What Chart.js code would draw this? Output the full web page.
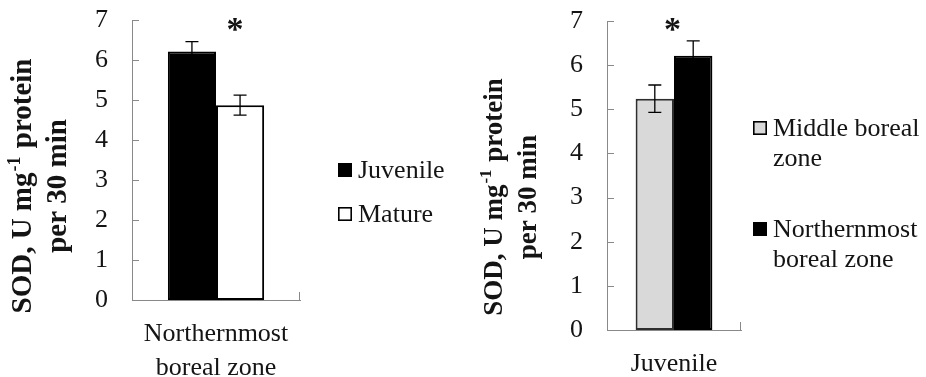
<!DOCTYPE html>
<html>
<head>
<meta charset="utf-8">
<script src="https://cdn.jsdelivr.net/npm/chart.js@4.4.0/dist/chart.umd.min.js"></script>
<style>
  html, body { margin: 0; padding: 0; background: #ffffff; }
  #wrap { position: relative; width: 926px; height: 377px; overflow: hidden; }
  .panel { position: absolute; top: 0; width: 463px; height: 377px; }
</style>
</head>
<body>
<div id="wrap">
  <div class="panel" style="left:0"><canvas id="ageChart" width="463" height="377"></canvas></div>
  <div class="panel" style="left:463px"><canvas id="zoneChart" width="463" height="377"></canvas></div>
</div>
<script>
// ---- Panel A: juvenile vs mature trees, northernmost boreal zone ----
const ageCategories = [["Northernmost", "boreal zone"]];
const ageLegend = [["Juvenile"], ["Mature"]];
const juvenileSOD = [6.21];
const juvenileErr = [0.25];
const matureSOD = [4.87];
const matureErr = [0.25];

// ---- Panel B: juvenile trees, middle vs northernmost boreal zone ----
const zoneCategories = ["Juvenile"];
const zoneLegend = [["Middle boreal", "zone"], ["Northernmost", "boreal zone"]];
const middleSOD = [5.24];
const middleErr = [0.31];
const northSOD = [6.21];
const northErr = [0.34];

// ---- Shared axis text ----
const yTickMin = 0;
const yTickMax = 7;
const yTickStep = 1;
const yTitleLine1 = [{ text: "SOD, U mg" }, { text: "-1", sup: true }, { text: " protein" }];
const yTitleLine2 = "per 30 min";
const significanceMark = "*";

const SERIF = "'Liberation Serif', 'Times New Roman', serif";
const AXIS_GREY = "#898989";
const TEXT = "#141414";

// Error bars, inside tick marks, rotated axis title, legend and significance star
const decorPlugin = {
  id: "decor",
  afterDatasetsDraw(chart) {
    const ctx = chart.ctx;
    const yScale = chart.scales.y;
    const xScale = chart.scales.x;
    const lay = chart.options.plugins.decor;
    ctx.save();

    // error bars
    chart.data.datasets.forEach((ds, di) => {
      const meta = chart.getDatasetMeta(di);
      meta.data.forEach((bar, i) => {
        const v = ds.data[i], e = ds.errors[i];
        const yTop = yScale.getPixelForValue(v + e);
        const yBot = yScale.getPixelForValue(v - e);
        ctx.strokeStyle = "#000";
        ctx.lineWidth = 1.3;
        ctx.beginPath();
        ctx.moveTo(bar.x, yTop); ctx.lineTo(bar.x, yBot);
        ctx.moveTo(bar.x - 6.5, yTop); ctx.lineTo(bar.x + 6.5, yTop);
        ctx.moveTo(bar.x - 6.5, yBot); ctx.lineTo(bar.x + 6.5, yBot);
        ctx.stroke();
      });
    });

    // tick marks pointing into the plot
    const area = chart.chartArea;
    ctx.strokeStyle = AXIS_GREY;
    ctx.lineWidth = 1;
    ctx.beginPath();
    yScale.ticks.forEach(t => {
      const y = Math.round(yScale.getPixelForValue(t.value)) + 0.5;
      ctx.moveTo(area.left, y); ctx.lineTo(area.left + 7, y);
    });
    const xr = Math.round(area.right) - 0.5;
    ctx.moveTo(xr, area.bottom); ctx.lineTo(xr, area.bottom - 8);
    ctx.stroke();

    // significance star above the group
    ctx.fillStyle = TEXT;
    ctx.font = "bold 34px " + SERIF;
    ctx.textAlign = "center";
    ctx.textBaseline = "alphabetic";
    ctx.fillText(significanceMark, xScale.getPixelForValue(0) + lay.starDx, lay.starBaseline);

    // rotated y-axis title (two lines, superscript exponent)
    ctx.save();
    ctx.translate(0, lay.titleCenterY);
    ctx.rotate(-Math.PI / 2);
    const big = "bold " + lay.titleSize + "px " + SERIF;
    const small = "bold " + Math.round(lay.titleSize * 0.62) + "px " + SERIF;
    let w = 0;
    yTitleLine1.forEach(p => { ctx.font = p.sup ? small : big; w += ctx.measureText(p.text).width + (p.sup ? 2 : 0); });
    let x = -w / 2;
    ctx.textAlign = "left";
    yTitleLine1.forEach(p => {
      ctx.font = p.sup ? small : big;
      ctx.fillText(p.text, x + (p.sup ? 1 : 0), lay.titleBase1 - (p.sup ? 11 : 0));
      x += ctx.measureText(p.text).width + (p.sup ? 2 : 0);
    });
    ctx.font = big;
    ctx.textAlign = "center";
    ctx.fillText(yTitleLine2, 0, lay.titleBase2);
    ctx.restore();

    // legend
    ctx.font = "26px " + SERIF;
    ctx.textAlign = "left";
    chart.data.datasets.forEach((ds, di) => {
      const base = lay.legendBaselines[di];
      ctx.fillStyle = ds.backgroundColor;
      ctx.fillRect(lay.legendX, base - 15, 14, 14);
      ctx.strokeStyle = "#000";
      ctx.lineWidth = 1.6;
      ctx.strokeRect(lay.legendX + 0.8, base - 14.2, 12.4, 12.4);
      ctx.fillStyle = TEXT;
      lay.legendLines[di].forEach((line, li) => {
        ctx.fillText(line, lay.legendX + 20, base + li * 30);
      });
    });
    ctx.restore();
  }
};

function barSet(label, values, errors, fill, edge) {
  return {
    label, data: values, errors,
    backgroundColor: fill, borderColor: edge, borderWidth: 2, borderSkipped: false,
    barPercentage: 1, categoryPercentage: 0.573
  };
}

function buildChart(id, labels, datasets, lay) {
  return new Chart(document.getElementById(id), {
    type: "bar",
    data: { labels, datasets },
    options: {
      responsive: false,
      animation: false,
      devicePixelRatio: 1,
      layout: { padding: { left: 0, right: lay.padRight, top: lay.padTop, bottom: 0 } },
      plugins: { legend: { display: false }, tooltip: { enabled: false }, decor: lay },
      scales: {
        x: {
          grid: { display: false },
          border: { color: AXIS_GREY, width: 1 },
          ticks: { font: { family: SERIF, size: 26, lineHeight: 1.3 }, color: TEXT, padding: 9, maxRotation: 0, autoSkip: false },
          afterFit(s) { s.height = lay.xAxisHeight; s.paddingLeft = 0; s.paddingRight = 0; }
        },
        y: {
          min: yTickMin, max: yTickMax,
          grid: { display: false },
          border: { color: AXIS_GREY, width: 1 },
          ticks: { stepSize: yTickStep, font: { family: SERIF, size: 26 }, color: TEXT, padding: 16 },
          afterFit(s) { s.width = lay.yAxisWidth; s.paddingTop = 0; s.paddingBottom = 0; }
        }
      }
    },
    plugins: [decorPlugin]
  });
}

buildChart("ageChart", ageCategories, [
  barSet(ageLegend[0].join(" "), juvenileSOD, juvenileErr, "#000000", "#000000"),
  barSet(ageLegend[1].join(" "), matureSOD, matureErr, "#ffffff", "#000000")
], {
  padRight: 163, padTop: 20, xAxisHeight: 77, yAxisWidth: 132,
  starDx: 19, starBaseline: 40,
  titleSize: 29, titleCenterY: 186, titleBase1: 31, titleBase2: 66,
  legendX: 338, legendBaselines: [178, 222], legendLines: ageLegend
});

buildChart("zoneChart", zoneCategories, [
  barSet(zoneLegend[0].join(" "), middleSOD, middleErr, "#d9d9d9", "#2e2e2e"),
  barSet(zoneLegend[1].join(" "), northSOD, northErr, "#000000", "#000000")
], {
  padRight: 185, padTop: 21, xAxisHeight: 47, yAxisWidth: 144,
  starDx: -1.5, starBaseline: 40,
  titleSize: 27, titleCenterY: 197, titleBase1: 39, titleBase2: 73,
  legendX: 290, legendBaselines: [136, 237], legendLines: zoneLegend
});
</script>
</body>
</html>
